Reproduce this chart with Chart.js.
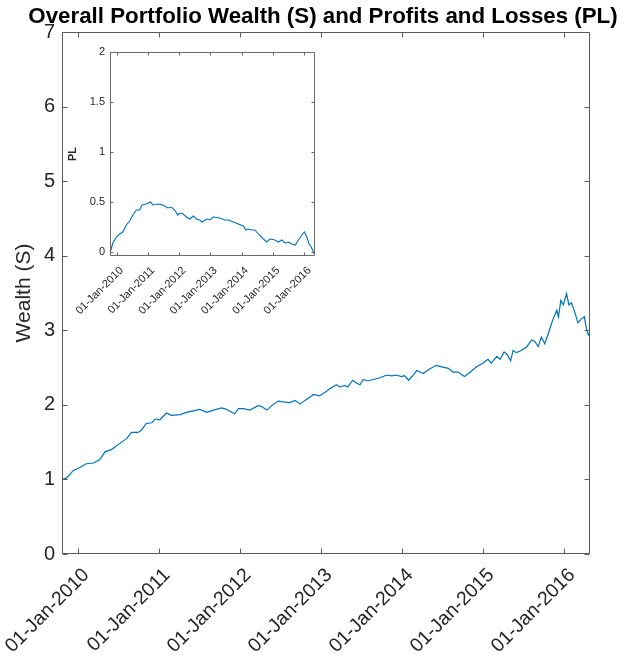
<!DOCTYPE html>
<html>
<head>
<meta charset="utf-8">
<script src="https://cdn.jsdelivr.net/npm/chart.js@4.4.1/dist/chart.umd.min.js"></script>
<style>
  html, body { margin: 0; padding: 0; background: #fff; }
  #wrap { position: relative; width: 631px; height: 662px; overflow: hidden; }
  #wrap canvas { position: absolute; left: 0; top: 0; }
  #plChart { pointer-events: none; }
  #title {
    position: absolute; left: 0; top: 3px; width: 646px;
    text-align: center; white-space: nowrap;
    font: bold 22.3px "Liberation Sans", Arial, Helvetica, sans-serif;
    line-height: 26px; color: #000; z-index: 2;
  }
</style>
</head>
<body>
<div id="wrap">
  <canvas id="wealthChart" width="631" height="662"></canvas>
  <canvas id="plChart" width="631" height="662"></canvas>
  <div id="title">Overall Portfolio Wealth (S) and Profits and Losses (PL)</div>
</div>
<script>
// Wealth (S) - dates as decimal years
const wealthYears = [
  2009.80, 2009.86, 2009.94, 2010.02, 2010.10, 2010.19, 2010.27, 2010.33, 2010.41, 2010.51,
  2010.60, 2010.66, 2010.74, 2010.78, 2010.84, 2010.91, 2010.95, 2011.01, 2011.09, 2011.15,
  2011.26, 2011.34, 2011.42, 2011.50, 2011.59, 2011.67, 2011.77, 2011.83, 2011.93, 2011.98,
  2012.04, 2012.12, 2012.22, 2012.26, 2012.33, 2012.39, 2012.47, 2012.53, 2012.61, 2012.68,
  2012.74, 2012.80, 2012.84, 2012.91, 2012.98, 2013.05, 2013.11, 2013.19, 2013.23, 2013.29,
  2013.33, 2013.39, 2013.44, 2013.48, 2013.52, 2013.58, 2013.64, 2013.72, 2013.81, 2013.87,
  2013.93, 2013.99, 2014.03, 2014.08, 2014.13, 2014.18, 2014.22, 2014.26, 2014.34, 2014.42,
  2014.49, 2014.57, 2014.63, 2014.69, 2014.77, 2014.83, 2014.92, 2015.00, 2015.06, 2015.10,
  2015.17, 2015.21, 2015.26, 2015.30, 2015.34, 2015.37, 2015.41, 2015.47, 2015.54, 2015.60,
  2015.64, 2015.68, 2015.72, 2015.76, 2015.80, 2015.86, 2015.91, 2015.93, 2015.96, 2015.99,
  2016.03, 2016.06, 2016.09, 2016.13, 2016.17, 2016.21, 2016.25, 2016.28, 2016.30, 2016.32
];
const wealthValues = [
  1.00, 1.02, 1.12, 1.16, 1.21, 1.22, 1.27, 1.37, 1.40, 1.48,
  1.55, 1.63, 1.63, 1.66, 1.75, 1.76, 1.81, 1.80, 1.89, 1.86,
  1.87, 1.90, 1.92, 1.94, 1.90, 1.93, 1.96, 1.94, 1.88, 1.95,
  1.95, 1.93, 1.99, 1.98, 1.93, 1.99, 2.05, 2.04, 2.03, 2.06,
  2.01, 2.06, 2.09, 2.14, 2.12, 2.17, 2.22, 2.27, 2.24, 2.26,
  2.24, 2.33, 2.29, 2.27, 2.34, 2.32, 2.34, 2.36, 2.40, 2.39,
  2.40, 2.38, 2.39, 2.33, 2.39, 2.46, 2.44, 2.42, 2.48, 2.53,
  2.51, 2.49, 2.44, 2.44, 2.38, 2.43, 2.51, 2.56, 2.61, 2.56,
  2.65, 2.61, 2.71, 2.67, 2.59, 2.73, 2.70, 2.73, 2.78, 2.87,
  2.85, 2.78, 2.91, 2.82, 2.94, 3.14, 3.27, 3.18, 3.40, 3.34,
  3.49, 3.34, 3.37, 3.25, 3.10, 3.15, 3.18, 3.00, 2.94, 2.98
];

// Profits and Losses (PL) - inset
const plYears = [
  2009.81, 2009.88, 2009.99, 2010.10, 2010.20, 2010.31, 2010.42, 2010.52, 2010.63, 2010.74,
  2010.81, 2010.95, 2011.09, 2011.16, 2011.32, 2011.48, 2011.64, 2011.75, 2011.88, 2011.95,
  2012.02, 2012.13, 2012.23, 2012.34, 2012.45, 2012.55, 2012.66, 2012.73, 2012.88, 2012.98,
  2013.09, 2013.30, 2013.46, 2013.57, 2013.73, 2013.89, 2014.05, 2014.13, 2014.21, 2014.32,
  2014.42, 2014.53, 2014.69, 2014.80, 2014.90, 2015.06, 2015.17, 2015.28, 2015.38, 2015.49,
  2015.60, 2015.71, 2015.81, 2015.92, 2016.00, 2016.08, 2016.15, 2016.22, 2016.29, 2016.33
];
const plValues = [
  0.01, 0.09, 0.15, 0.18, 0.20, 0.27, 0.31, 0.37, 0.42, 0.42,
  0.47, 0.48, 0.50, 0.47, 0.48, 0.47, 0.44, 0.45, 0.41, 0.37,
  0.39, 0.38, 0.35, 0.33, 0.36, 0.33, 0.32, 0.30, 0.33, 0.32,
  0.35, 0.34, 0.32, 0.32, 0.30, 0.28, 0.26, 0.22, 0.23, 0.22,
  0.22, 0.18, 0.13, 0.10, 0.13, 0.12, 0.10, 0.12, 0.09, 0.10,
  0.08, 0.07, 0.12, 0.17, 0.20, 0.15, 0.08, 0.05, 0.00, -0.03
];

// Tick values
const yearTicks = [2010, 2011, 2012, 2013, 2014, 2015, 2016];
const wealthTicks = [0, 1, 2, 3, 4, 5, 6, 7];
const plTicks = [0, 0.5, 1, 1.5, 2];

const lineColor = '#0072BD';
const textColor = '#262626';
const FONT = '"Liberation Sans", Arial, Helvetica, sans-serif';

Chart.defaults.font.family = FONT;
Chart.defaults.color = textColor;

function yearLabel(v) {
  return '01-Jan-' + v;
}

function toPoints(xs, ys) {
  return xs.map((x, i) => ({ x: x, y: ys[i] }));
}

// MATLAB style box with inward ticks on all four sides
const matlabBox = {
  id: 'matlabBox',
  beforeDraw(chart) {
    const a = chart.chartArea;
    const ctx = chart.ctx;
    ctx.save();
    ctx.fillStyle = '#ffffff';
    ctx.fillRect(a.left, a.top, a.right - a.left, a.bottom - a.top);
    ctx.restore();
  },
  afterDraw(chart, args, opts) {
    const { ctx, chartArea: a, scales: { x, y } } = chart;
    const len = opts.tickLength || 5;
    const L = Math.round(a.left) + 0.5, R = Math.round(a.right) - 0.5;
    const T = Math.round(a.top) + 0.5, B = Math.round(a.bottom) - 0.5;
    ctx.save();
    ctx.strokeStyle = opts.color || '#555';
    ctx.lineWidth = 1;
    ctx.beginPath();
    ctx.rect(L, T, R - L, B - T);
    x.ticks.forEach(t => {
      const px = Math.round(x.getPixelForValue(t.value)) + 0.5;
      ctx.moveTo(px, B); ctx.lineTo(px, B - len);
      ctx.moveTo(px, T); ctx.lineTo(px, T + len);
    });
    y.ticks.forEach(t => {
      const py = Math.round(y.getPixelForValue(t.value)) + 0.5;
      ctx.moveTo(L, py); ctx.lineTo(L + len, py);
      ctx.moveTo(R, py); ctx.lineTo(R - len, py);
    });
    ctx.stroke();
    ctx.restore();
  }
};

// Main chart: Wealth (S)
new Chart(document.getElementById('wealthChart'), {
  type: 'line',
  data: {
    datasets: [{
      data: toPoints(wealthYears, wealthValues),
      borderColor: lineColor,
      borderWidth: 1.2,
      pointRadius: 0,
      tension: 0,
      fill: false
    }]
  },
  options: {
    responsive: false,
    animation: false,
    layout: { padding: { left: 0, top: 32, right: 41, bottom: 0 } },
    plugins: {
      legend: { display: false },
      tooltip: { enabled: false },
      title: { display: false },
      matlabBox: { tickLength: 5, color: '#5a5a5a' }
    },
    scales: {
      x: {
        type: 'linear',
        min: 2009.80,
        max: 2016.32,
        grid: { display: false, drawTicks: false },
        border: { display: false },
        afterBuildTicks: s => { s.ticks = yearTicks.map(v => ({ value: v })); },
        afterFit: s => { s.height = 108; s.paddingLeft = 0; s.paddingRight = 0; },
        ticks: {
          autoSkip: false,
          minRotation: 45,
          maxRotation: 45,
          padding: 5,
          labelOffset: 8,
          color: textColor,
          font: { size: 19.5, lineHeight: 1.9 },
          callback: v => yearLabel(v)
        }
      },
      y: {
        min: 0,
        max: 7,
        grid: { display: false, drawTicks: false },
        border: { display: false },
        afterBuildTicks: s => { s.ticks = wealthTicks.map(v => ({ value: v })); },
        afterFit: s => { s.width = 62; s.paddingTop = 0; s.paddingBottom = 0; },
        title: {
          display: true,
          text: 'Wealth (S)',
          color: textColor,
          font: { size: 21, lineHeight: 1.2 },
          padding: { top: 12, bottom: 0 }
        },
        ticks: {
          padding: 7,
          color: textColor,
          font: { size: 20 }
        }
      }
    }
  },
  plugins: [matlabBox]
});

// Inset chart: Profits and Losses (PL)
new Chart(document.getElementById('plChart'), {
  type: 'line',
  data: {
    datasets: [{
      data: toPoints(plYears, plValues),
      borderColor: lineColor,
      borderWidth: 1.1,
      pointRadius: 0,
      tension: 0,
      fill: false
    }]
  },
  options: {
    responsive: false,
    animation: false,
    layout: { padding: { left: 60, top: 52, right: 631 - 315, bottom: 662 - 256 - 70 } },
    plugins: {
      legend: { display: false },
      tooltip: { enabled: false },
      matlabBox: { tickLength: 3, color: '#6a6a6a' }
    },
    scales: {
      x: {
        type: 'linear',
        min: 2009.79,
        max: 2016.34,
        grid: { display: false, drawTicks: false },
        border: { display: false },
        afterBuildTicks: s => { s.ticks = yearTicks.map(v => ({ value: v })); },
        afterFit: s => { s.height = 70; s.paddingLeft = 0; s.paddingRight = 0; },
        ticks: {
          autoSkip: false,
          minRotation: 45,
          maxRotation: 45,
          padding: 6,
          labelOffset: 5,
          color: textColor,
          font: { size: 11, lineHeight: 1.75 },
          callback: v => yearLabel(v)
        }
      },
      y: {
        min: -0.04,
        max: 2,
        grid: { display: false, drawTicks: false },
        border: { display: false },
        afterBuildTicks: s => { s.ticks = plTicks.map(v => ({ value: v })); },
        afterFit: s => { s.width = 50; s.paddingTop = 0; s.paddingBottom = 0; },
        title: {
          display: true,
          text: 'PL',
          color: textColor,
          font: { size: 11, weight: 'bold', lineHeight: 1.2 },
          padding: { top: 6, bottom: 0 }
        },
        ticks: {
          padding: 5,
          color: textColor,
          font: { size: 11 },
          callback: v => String(v)
        }
      }
    }
  },
  plugins: [matlabBox]
});
</script>
</body>
</html>
